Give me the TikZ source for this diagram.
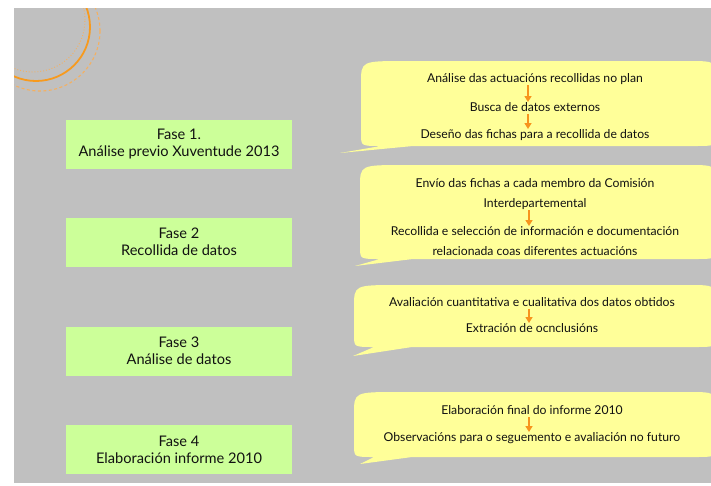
\documentclass[tikz,border=0pt]{standalone}
\usepackage{fontspec}
\setmainfont{Lato}
\usetikzlibrary{arrows.meta}
\definecolor{bg}{HTML}{C0C0C0}
\definecolor{fasegreen}{HTML}{CCFF99}
\definecolor{calloutyellow}{HTML}{FFFF99}
\definecolor{arroworange}{HTML}{F7941D}
\definecolor{ringorange}{HTML}{F79A1E}
\definecolor{ringlight}{HTML}{F5B060}
\definecolor{txt}{HTML}{111111}
\newcommand\mycallout[7]{%
  \fill[calloutyellow] (#5,#6) -- (#7,#4) -- (#3-22,#4) .. controls (#3,#4) .. (#3,#4-12)
    -- (#3,#2+18) .. controls (#3,#2) .. (#3-30,#2) -- (#1+45,#2)
    .. controls (#1,#2) .. (#1,#2+22) -- (#1,#4-12) .. controls (#1,#4) .. (#1+20,#4) -- cycle;}
\begin{document}
\begin{tikzpicture}[x=1pt,y=-1pt,
  fase/.style={fill=fasegreen, text=txt, minimum width=226pt, minimum height=49pt,
    align=center, inner sep=0pt, font=\fontsize{14.6}{17}\selectfont},
  ctext/.style={text=txt, inner sep=0pt, text height=8pt, text depth=2pt, outer sep=1pt,
    font=\fontsize{12.2}{14}\selectfont},
  arr/.style={draw=arroworange, line width=2pt, -{Triangle[width=7pt,length=6pt]}}]
\useasboundingbox (0,0) rectangle (711,485);
\fill[bg] (14,8) rectangle (711,483);
\begin{scope}
  \clip (14,8) rectangle (711,483);
  \draw[ringlight, line width=0.9pt, dotted] (33,20) circle[radius=52pt];
  \draw[ringorange, line width=1.8pt] (36,27) circle[radius=54pt];
  \draw[ringlight, line width=1.1pt, dash pattern=on 3pt off 2.5pt] (40,31) circle[radius=60pt];
  % callouts
  \mycallout{361}{61}{716}{146}{340}{153}{413}
  \mycallout{360}{165}{716}{259}{355}{266}{413}
  \mycallout{354}{285}{716}{347}{353}{356}{412}
  \mycallout{354}{392}{716}{457}{360}{464}{412}
\end{scope}
% phase boxes
\node[fase] (f1) at (179,144.5) {Fase 1.\\Análise previo Xuventude 2013};
\node[fase] (f2) at (179,242) {Fase 2\\Recollida de datos};
\node[fase] (f3) at (179,351) {Fase 3\\Análise de datos};
\node[fase] (f4) at (179,449.5) {Fase 4\\Elaboración informe 2010};
% callout 1
\node[ctext] (a1) at (535,79) {Análise das actuacións recollidas no plan};
\node[ctext] (a2) at (535,108) {Busca de datos externos};
\node[ctext] (a3) at (535,135) {Deseño das fichas para a recollida de datos};
\draw[arr] ([xshift=-7pt]a1.south) -- ([xshift=-7pt]a2.north);
\draw[arr] ([xshift=-7pt]a2.south) -- ([xshift=-7pt]a3.north);
% callout 2
\node[ctext] (b1) at (535,184) {Envío das fichas a cada membro da Comisión};
\node[ctext] (b2) at (535,204) {Interdepartemental};
\node[ctext] (b3) at (535,232) {Recollida e selección de información e documentación};
\node[ctext] (b4) at (535,252) {relacionada coas diferentes actuacións};
\draw[arr] ([xshift=-6pt]b2.south) -- ([xshift=-6pt]b3.north);
% callout 3
\node[ctext] (c1) at (532,303) {Avaliación cuantitativa e cualitativa dos datos obtidos};
\node[ctext] (c2) at (532,329) {Extración de ocnclusións};
\draw[arr] ([xshift=-3pt]c1.south) -- ([xshift=-3pt]c2.north);
% callout 4
\node[ctext] (d1) at (532,411) {Elaboración final do informe 2010};
\node[ctext] (d2) at (532,438) {Observacións para o seguemento e avaliación no futuro};
\draw[arr] ([xshift=-3pt]d1.south) -- ([xshift=-3pt]d2.north);
\end{tikzpicture}
\end{document}
